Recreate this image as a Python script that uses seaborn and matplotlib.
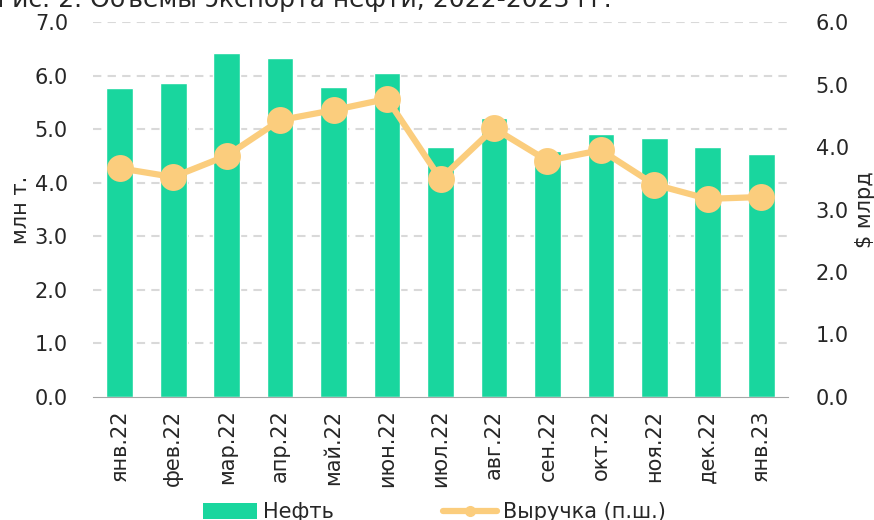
import matplotlib
matplotlib.use("Agg")
import matplotlib.pyplot as plt
import seaborn as sns
from matplotlib.patches import Patch
from matplotlib.lines import Line2D

# Data
months = ["янв.22", "фев.22", "мар.22", "апр.22", "май.22", "июн.22", "июл.22",
          "авг.22", "сен.22", "окт.22", "ноя.22", "дек.22", "янв.23"]
oil_mt = [5.77, 5.86, 6.42, 6.33, 5.79, 6.05, 4.67, 5.21, 4.59, 4.91, 4.83, 4.67, 4.54]
revenue_bn = [3.66, 3.52, 3.86, 4.43, 4.59, 4.77, 3.49, 4.30, 3.78, 3.95, 3.40, 3.17, 3.20]
left_ticks = [0, 1, 2, 3, 4, 5, 6, 7]
right_ticks = [0, 1, 2, 3, 4, 5, 6]

BAR_COLOR = "#19D69E"
LINE_COLOR = "#FBCD7D"
GRID_COLOR = "#D9D9D9"

sns.set_style("white")
plt.rcParams["font.family"] = ["DejaVu Sans"]
FS = 15

fig = plt.figure(figsize=(8.74, 5.2), dpi=100)
ax = fig.add_axes([93 / 874, 1 - 397 / 520, 695 / 874, 375 / 520])

sns.barplot(x=months, y=oil_mt, ax=ax, color=BAR_COLOR, saturation=1, width=0.5, zorder=2)
ax.set_ylim(0, 7)
ax.set_yticks(left_ticks)
ax.set_yticklabels([f"{v:.1f}" for v in left_ticks], fontsize=FS)
ax.set_xlim(-0.5, len(months) - 0.5)
ax.set_xticks(range(len(months)))
ax.set_xticklabels(months, rotation=90, fontsize=FS)
ax.set_xticks([i - 0.5 for i in range(len(months) + 1)], minor=True)
ax.tick_params(axis="x", which="major", length=0, pad=9)
ax.tick_params(axis="x", which="minor", length=7, width=1, color="#A6A6A6")
ax.tick_params(axis="y", length=0, pad=18)
ax.set_ylabel("млн т.", fontsize=FS, labelpad=3)
ax.set_xlabel("")
for y in left_ticks[1:]:
    ax.axhline(y, color=GRID_COLOR, lw=1.5, ls=(0, (4, 3)), zorder=1)
for s in ["top", "left", "right"]:
    ax.spines[s].set_visible(False)
ax.spines["bottom"].set_color("#A6A6A6")

ax2 = ax.twinx()
sns.pointplot(x=months, y=revenue_bn, ax=ax2, color=LINE_COLOR,
              markersize=16, linewidth=4.5, zorder=3)
ax2.set_ylim(0, 6)
ax2.set_yticks(right_ticks)
ax2.set_yticklabels([f"{v:.1f}" for v in right_ticks], fontsize=FS)
ax2.tick_params(axis="y", length=0, pad=20)
ax2.set_ylabel("$ млрд", fontsize=FS, rotation=90, labelpad=4)
ax2.set_xlim(-0.5, len(months) - 0.5)
for s in ["top", "left", "right", "bottom"]:
    ax2.spines[s].set_visible(False)

# title sits partly above the top edge, as in the source image
fig.text(-0.003, 1 - 7 / 520, "Рис. 2. Объемы экспорта нефти, 2022-2023 гг.",
         fontsize=18, va="baseline", ha="left")

handles = [Patch(facecolor=BAR_COLOR, edgecolor="none"),
           Line2D([0], [0], color=LINE_COLOR, lw=4.5, marker="o", markersize=7)]
fig.legend(handles, ["Нефть", "Выручка (п.ш.)"], loc="center",
           bbox_to_anchor=(0.497, 0.015), ncol=2, frameon=False, fontsize=FS,
           handlelength=2.6, handleheight=0.8, handletextpad=0.3, columnspacing=5.2)

fig.savefig("out.png", dpi=100)
